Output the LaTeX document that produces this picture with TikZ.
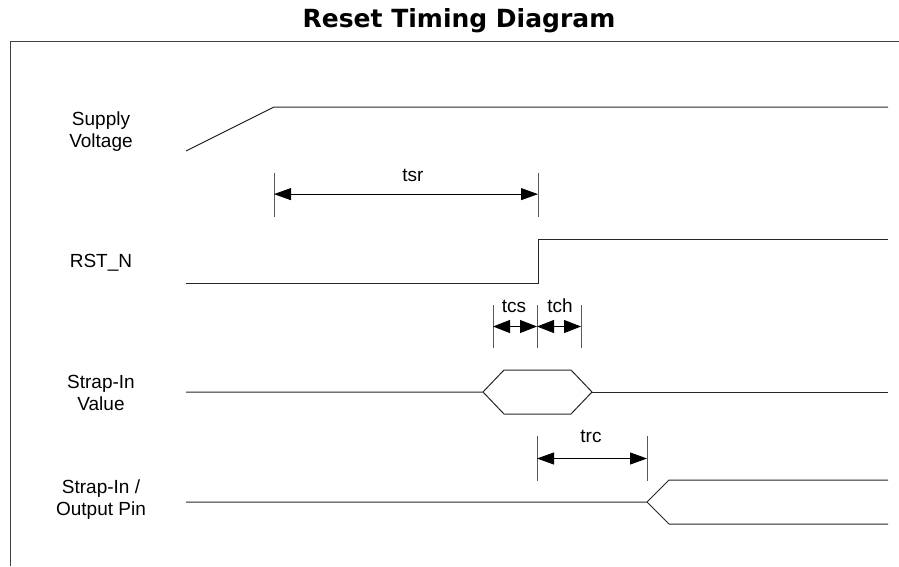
\documentclass[tikz,border=0pt]{standalone}
\usepackage{fontspec}
\setmainfont{Liberation Sans}
\newfontfamily\titlefont{DejaVu Sans}
\usepackage{tikz}
\usetikzlibrary{arrows.meta, calc}
\tikzset{
    sig line/.style={line width=1pt, draw=black!85},
    tick line/.style={line width=0.8pt, draw=black!65},
    dim line/.style={line width=0.8pt, draw=black,
      {Triangle[length=17pt,width=12pt]}-{Triangle[length=17pt,width=12pt]}},
    short dim line/.style={line width=0.8pt, draw=black,
      {Triangle[length=17pt,width=13pt]}-{Triangle[length=17pt,width=13pt]}},
    frame line/.style={line width=1pt, draw=black!75},
    sig label/.style={font=\fontsize{19}{22}\selectfont, align=center, inner sep=0pt},
    dim label/.style={font=\fontsize{19}{22}\selectfont, inner sep=0pt}
}

\begin{document}
\begin{tikzpicture}[x=1pt,y=-1pt]
  \useasboundingbox (0,0) rectangle (899,566);

  \node[font=\titlefont\bfseries\fontsize{25}{29}\selectfont, inner sep=0pt]
  (title) at (459,21) {Reset Timing Diagram};

  % frame
  \coordinate (F0) at (10,566);
  \coordinate (F1) at (10,41);
  \coordinate (F2) at (899,41);
  \draw [frame line] (F0) -- (F1) -- (F2);

  % signal names
  \node[sig label] (supply) at (101,132) {Supply\\Voltage};
  \node[sig label] (rst) at (101,263) {RST\_N};
  \node[sig label] (value) at (101,393) {Strap-In\\Value};
  \node[sig label] (pin) at (101,500) {Strap-In /\\Output Pin};

  % supply voltage
  \coordinate (S0) at (186,151);
  \coordinate (S1) at (274,107);
  \coordinate (S2) at (888,107);
  \draw [sig line] (S0) -- (S1) -- (S2);

  % RST_N
  \coordinate (R0) at (186,283);
  \coordinate (R1) at (538,283);
  \coordinate (R2) at (538,239);
  \coordinate (R3) at (888,239);
  \draw [sig line] (R0) -- (R1) -- (R2) -- (R3);

  % strap-in value
  \coordinate (V0) at (186,392);
  \coordinate (V1) at (483,392);
  \coordinate (V2) at (504,370);
  \coordinate (V3) at (571,370);
  \coordinate (V4) at (592,392);
  \coordinate (V5) at (571,414);
  \coordinate (V6) at (504,414);
  \coordinate (V7) at (888,392);
  \draw [sig line] (V0) -- (V1) -- (V2) -- (V3) -- (V4) -- (V5) -- (V6) -- (V1);
  \draw [sig line] (V4) -- (V7);

  % strap-in / output pin
  \coordinate (P0) at (186,502);
  \coordinate (P1) at (647,502);
  \coordinate (P2) at (669,480);
  \coordinate (P3) at (888,480);
  \coordinate (P4) at (669,524);
  \coordinate (P5) at (888,524);
  \draw [sig line] (P0) -- (P1) -- (P2) -- (P3);
  \draw [sig line] (P1) -- (P4) -- (P5);

  % tsr
  \coordinate (tsrA) at (274,173);
  \coordinate (tsrA') at (274,217);
  \coordinate (tsrB) at (538,173);
  \coordinate (tsrB') at (538,217);
  \draw [tick line] (tsrA) -- (tsrA');
  \draw [tick line] (tsrB) -- (tsrB');
  \draw [dim line] ($(tsrA)!0.48!(tsrA')$) -- ($(tsrB)!0.48!(tsrB')$);
  \node[dim label] (tsr) at (413,175) {tsr};

  % tcs and tch
  \coordinate (tcsA) at (493,305);
  \coordinate (tcsA') at (493,348);
  \coordinate (tcsB) at (537,305);
  \coordinate (tcsB') at (537,348);
  \coordinate (tchB) at (581,305);
  \coordinate (tchB') at (581,348);
  \draw [tick line] (tcsA) -- (tcsA');
  \draw [tick line] (tcsB) -- (tcsB');
  \draw [tick line] (tchB) -- (tchB');
  \draw [short dim line] ($(tcsA)!0.5!(tcsA')$) -- ($(tcsB)!0.5!(tcsB')$);
  \draw [short dim line] ($(tcsB)!0.5!(tcsB')$) -- ($(tchB)!0.5!(tchB')$);
  \node[dim label] (tcs) at (514,306) {tcs};
  \node[dim label] (tch) at (560,306) {tch};

  % trc
  \coordinate (trcA) at (537,436);
  \coordinate (trcA') at (537,481);
  \coordinate (trcB) at (647,436);
  \coordinate (trcB') at (647,481);
  \draw [tick line] (trcA) -- (trcA');
  \draw [tick line] (trcB) -- (trcB');
  \draw [dim line] ($(trcA)!0.5!(trcA')$) -- ($(trcB)!0.5!(trcB')$);
  \node[dim label] (trc) at (591,436) {trc};

\end{tikzpicture}
\end{document}
